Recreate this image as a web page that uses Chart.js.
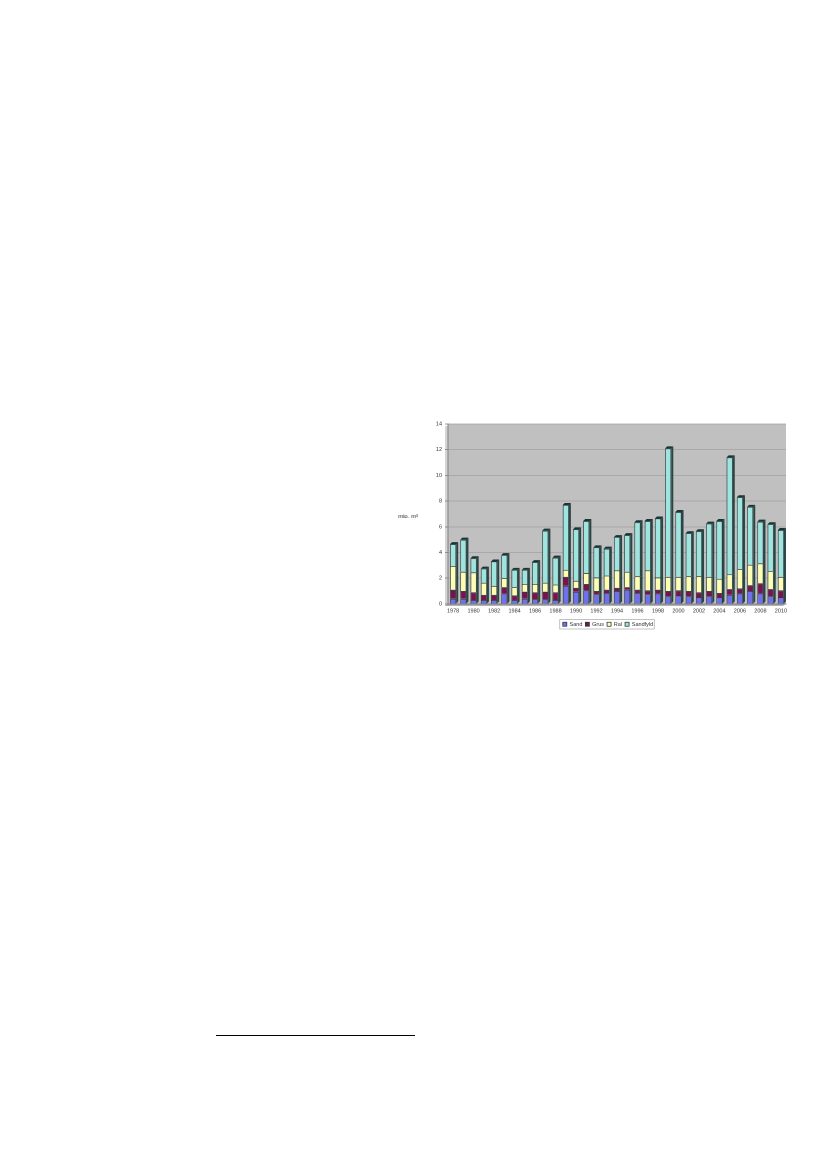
<!DOCTYPE html>
<html>
<head>
<meta charset="utf-8">
<script src="https://cdn.jsdelivr.net/npm/chart.js@4/dist/chart.umd.min.js"></script>
<style>
  html, body { margin: 0; padding: 0; background: #ffffff; }
  body { width: 826px; height: 1169px; position: relative; overflow: hidden; font-family: "Liberation Sans", Arial, sans-serif; }
  #wrap { position: absolute; left: 430px; top: 412px; width: 370px; height: 225px; }
  #ylab { position: absolute; left: 398px; top: 513px; font-size: 6px; color: #222; white-space: nowrap; }
  #foot { position: absolute; left: 216px; top: 1035px; width: 199px; height: 0; border-top: 1px solid #000; }
</style>
</head>
<body>
<div id="ylab">mio. m³</div>
<div id="wrap"><canvas id="c"></canvas></div>
<div id="foot"></div>
<script>
const years = [1978,1979,1980,1981,1982,1983,1984,1985,1986,1987,1988,1989,1990,1991,1992,1993,1994,1995,1996,1997,1998,1999,2000,2001,2002,2003,2004,2005,2006,2007,2008,2009,2010];
const sand = [0.4,0.4,0.3,0.3,0.3,0.8,0.3,0.4,0.35,0.35,0.3,1.4,0.95,1.05,0.75,0.85,1.0,1.1,0.85,0.75,0.8,0.6,0.65,0.6,0.5,0.6,0.5,0.7,0.8,1.0,0.8,0.6,0.5];
const grus = [0.7,0.6,0.6,0.4,0.4,0.5,0.35,0.55,0.55,0.6,0.6,0.7,0.3,0.5,0.25,0.25,0.25,0.2,0.25,0.3,0.3,0.4,0.4,0.4,0.4,0.4,0.35,0.45,0.4,0.45,0.8,0.55,0.55];
const ral = [1.85,1.5,1.55,0.95,0.7,0.7,0.65,0.6,0.65,0.7,0.6,0.55,0.55,0.85,1.05,1.1,1.35,1.2,1.05,1.55,0.95,1.1,1.05,1.15,1.25,1.1,1.1,1.15,1.5,1.6,1.55,1.4,1.05];
const sandfyld = [1.7,2.5,1.1,1.1,1.9,1.8,1.35,1.1,1.7,4.05,2.1,5.05,4.0,4.05,2.35,2.1,2.6,2.85,4.2,3.85,4.6,10.0,5.05,3.35,3.5,4.15,4.5,9.1,5.6,4.5,3.25,3.65,3.65];
const seriesNames = ["Sand","Grus","Ral","Sandfyld"];
const yTicks = [0,2,4,6,8,10,12,14];

const bgPlugin = {
  id: 'plotBg',
  beforeDraw(chart) {
    const {ctx, chartArea: a} = chart;
    ctx.save();
    ctx.fillStyle = '#c0c0c0';
    ctx.fillRect(a.left, a.top, a.right - a.left, a.bottom - a.top);
    ctx.fillStyle = '#d4d4d4';
    ctx.fillRect(a.left - 3, a.top + 2, 3, a.bottom - a.top);
    ctx.fillStyle = '#a6a6a6';
    ctx.beginPath();
    ctx.moveTo(a.left - 3, a.bottom + 2);
    ctx.lineTo(a.left, a.bottom);
    ctx.lineTo(a.right, a.bottom);
    ctx.lineTo(a.right - 3, a.bottom + 2);
    ctx.closePath();
    ctx.fill();
    ctx.restore();
  },
  afterDraw(chart) {
    const lg = chart.legend;
    if (!lg || !lg.legendHitBoxes || !lg.legendHitBoxes.length) return;
    let x0 = Infinity, y0 = Infinity, x1 = -Infinity, y1 = -Infinity;
    lg.legendHitBoxes.forEach(h => {
      x0 = Math.min(x0, h.left); y0 = Math.min(y0, h.top);
      x1 = Math.max(x1, h.left + h.width); y1 = Math.max(y1, h.top + h.height);
    });
    const ctx = chart.ctx;
    ctx.save();
    ctx.strokeStyle = '#9a9a9a';
    ctx.lineWidth = 0.6;
    ctx.strokeRect(x0 - 3, y0 - 2, x1 - x0 + 4, y1 - y0 + 4);
    ctx.restore();
  }
};

const depthPlugin = {
  id: 'depth',
  afterDatasetsDraw(chart) {
    const ctx = chart.ctx;
    const n = chart.data.labels.length;
    const last = chart.getDatasetMeta(chart.data.datasets.length - 1);
    const first = chart.getDatasetMeta(0);
    const d = 2;
    ctx.save();
    for (let i = 0; i < n; i++) {
      const top = last.data[i];
      const bot = first.data[i];
      if (!top || !bot) continue;
      const p = top.getProps(['x','y','width'], true);
      const b = bot.getProps(['base'], true);
      const l = p.x - p.width / 2, r = p.x + p.width / 2;
      ctx.fillStyle = '#2b4545';
      ctx.beginPath();
      ctx.moveTo(r, p.y);
      ctx.lineTo(r + d, p.y - d);
      ctx.lineTo(r + d, b.base - d);
      ctx.lineTo(r, b.base);
      ctx.closePath();
      ctx.fill();
      ctx.fillStyle = '#1e3333';
      ctx.beginPath();
      ctx.moveTo(l, p.y);
      ctx.lineTo(l + d, p.y - d);
      ctx.lineTo(r + d, p.y - d);
      ctx.lineTo(r, p.y);
      ctx.closePath();
      ctx.fill();
    }
    ctx.restore();
  }
};

const colors = ['#7070ee','#7a1250','#ffffb4','#9ee4df'];
const values = [sand, grus, ral, sandfyld];

new Chart(document.getElementById('c'), {
  type: 'bar',
  data: {
    labels: years.map(String),
    datasets: seriesNames.map((name, k) => ({
      label: name,
      data: values[k],
      backgroundColor: colors[k],
      borderColor: '#2a3a3a',
      borderWidth: 0.8,
      barPercentage: 0.6,
      categoryPercentage: 1.0
    }))
  },
  options: {
    responsive: true,
    maintainAspectRatio: false,
    animation: false,
    devicePixelRatio: 2,
    layout: { padding: { top: 12, right: 14, left: 0, bottom: 0 } },
    plugins: {
      legend: {
        position: 'bottom',
        labels: {
          boxWidth: 4, boxHeight: 4, padding: 3,
          font: { size: 5.5, family: 'Liberation Sans' },
          color: '#333'
        }
      },
      tooltip: { enabled: false }
    },
    scales: {
      x: {
        stacked: true,
        grid: { display: false, drawTicks: false },
        border: { display: true, color: '#808080' },
        ticks: {
          autoSkip: false, maxRotation: 0, minRotation: 0,
          font: { size: 5.5, family: 'Liberation Sans' }, color: '#333', padding: 4,
          callback(v, i) { return years[i] % 2 === 0 ? years[i] : ''; }
        }
      },
      y: {
        stacked: true,
        min: 0, max: 14,
        afterBuildTicks(scale) { scale.ticks = yTicks.map(v => ({ value: v })); },
        afterFit(scale) { scale.width = 18; },
        grid: { color: '#a2a2a2', lineWidth: 0.8, tickLength: 3, tickColor: '#808080' },
        border: { display: true, color: '#808080' },
        ticks: { font: { size: 5.5, family: 'Liberation Sans' }, color: '#333', padding: 3 }
      }
    }
  },
  plugins: [bgPlugin, depthPlugin]
});
</script>
</body>
</html>
